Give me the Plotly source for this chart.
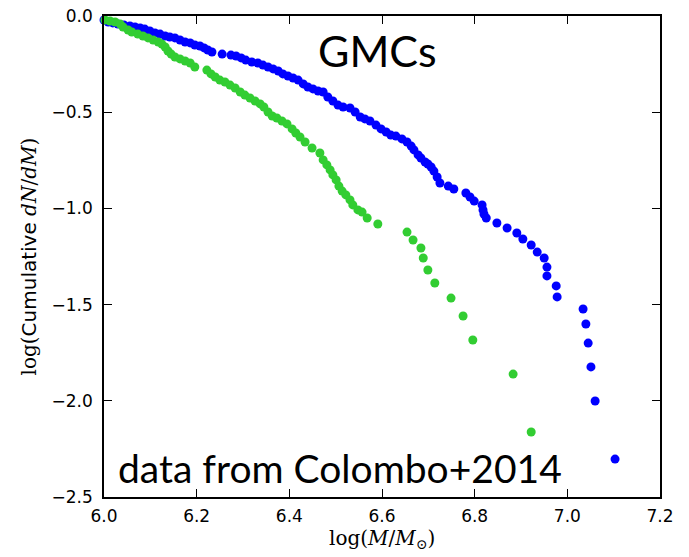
import plotly.graph_objects as go

# Blue series (log M, log cumulative dN/dM)
blue_x = [6.000, 6.009, 6.019, 6.030, 6.043, 6.056, 6.067, 6.078, 6.088, 6.099,
          6.110, 6.121, 6.132, 6.142, 6.153, 6.164, 6.175, 6.186, 6.196, 6.207,
          6.216, 6.224, 6.233, 6.255, 6.274, 6.285, 6.296, 6.306, 6.319, 6.332,
          6.343, 6.354, 6.365, 6.376, 6.386, 6.397, 6.408, 6.419, 6.430, 6.440,
          6.451, 6.462, 6.473, 6.483, 6.494, 6.505, 6.516, 6.531, 6.542, 6.553,
          6.563, 6.574, 6.587, 6.598, 6.609, 6.619, 6.630, 6.643, 6.654, 6.663,
          6.669, 6.678, 6.684, 6.693, 6.699, 6.706, 6.712, 6.719, 6.725, 6.743,
          6.755, 6.781, 6.790, 6.799, 6.816, 6.818, 6.820, 6.825, 6.848, 6.870,
          6.891, 6.904, 6.922, 6.935, 6.950, 6.956, 6.956, 6.976, 6.978, 7.034,
          7.040, 7.045, 7.051, 7.060, 7.103]
blue_y = [-0.021, -0.031, -0.036, -0.042, -0.047, -0.052, -0.057, -0.062, -0.068, -0.078,
          -0.088, -0.094, -0.104, -0.109, -0.114, -0.125, -0.135, -0.140, -0.151, -0.156,
          -0.166, -0.177, -0.187, -0.198, -0.203, -0.208, -0.218, -0.229, -0.239, -0.244,
          -0.255, -0.265, -0.275, -0.286, -0.301, -0.312, -0.322, -0.333, -0.353, -0.369,
          -0.379, -0.390, -0.395, -0.421, -0.442, -0.463, -0.473, -0.478, -0.499, -0.525,
          -0.535, -0.546, -0.567, -0.587, -0.603, -0.619, -0.624, -0.639, -0.655, -0.676,
          -0.696, -0.722, -0.738, -0.759, -0.769, -0.785, -0.806, -0.837, -0.868, -0.884,
          -0.899, -0.920, -0.941, -0.962, -0.982, -1.008, -1.029, -1.050, -1.076, -1.102,
          -1.128, -1.159, -1.190, -1.227, -1.258, -1.305, -1.351, -1.403, -1.460, -1.523,
          -1.601, -1.700, -1.824, -2.001, -2.303]

# Green series
green_x = [6.002, 6.013, 6.024, 6.035, 6.041, 6.052, 6.060, 6.073, 6.084, 6.095,
           6.106, 6.117, 6.125, 6.132, 6.138, 6.145, 6.153, 6.164, 6.175, 6.186,
           6.196, 6.222, 6.231, 6.240, 6.250, 6.261, 6.272, 6.283, 6.294, 6.304,
           6.315, 6.326, 6.337, 6.345, 6.354, 6.363, 6.373, 6.384, 6.395, 6.406,
           6.414, 6.423, 6.434, 6.449, 6.466, 6.473, 6.481, 6.488, 6.494, 6.501,
           6.507, 6.514, 6.522, 6.531, 6.537, 6.548, 6.557, 6.568, 6.591, 6.654,
           6.667, 6.684, 6.689, 6.699, 6.714, 6.749, 6.775, 6.796, 6.883, 6.922]
green_y = [-0.021, -0.026, -0.031, -0.042, -0.057, -0.073, -0.083, -0.094, -0.104, -0.114,
           -0.125, -0.135, -0.146, -0.161, -0.182, -0.198, -0.213, -0.223, -0.234, -0.244,
           -0.265, -0.281, -0.301, -0.317, -0.333, -0.343, -0.359, -0.374, -0.395, -0.411,
           -0.426, -0.442, -0.457, -0.473, -0.499, -0.520, -0.530, -0.546, -0.561, -0.587,
           -0.608, -0.629, -0.655, -0.686, -0.712, -0.748, -0.774, -0.800, -0.826, -0.852,
           -0.884, -0.910, -0.930, -0.956, -0.982, -1.008, -1.019, -1.050, -1.081, -1.123,
           -1.164, -1.206, -1.258, -1.320, -1.388, -1.466, -1.559, -1.684, -1.861, -2.162]

x_ticks = [6.0, 6.2, 6.4, 6.6, 6.8, 7.0, 7.2]
x_ticktext = ["6.0", "6.2", "6.4", "6.6", "6.8", "7.0", "7.2"]
y_ticks = [0.0, -0.5, -1.0, -1.5, -2.0, -2.5]
y_ticktext = ["0.0", "\u22120.5", "\u22121.0", "\u22121.5", "\u22122.0", "\u22122.5"]

fig = go.Figure()
fig.add_trace(go.Scatter(x=blue_x, y=blue_y, mode="markers",
                         marker=dict(color="#0000ff", size=9, line=dict(width=0)),
                         showlegend=False, cliponaxis=False))
fig.add_trace(go.Scatter(x=green_x, y=green_y, mode="markers",
                         marker=dict(color="#32cd32", size=9, line=dict(width=0)),
                         showlegend=False, cliponaxis=False))

axis_common = dict(showline=True, linecolor="black", linewidth=1.5, mirror="ticks",
                   ticks="inside", ticklen=8, tickwidth=1, tickcolor="black",
                   showgrid=False, zeroline=False, automargin=False,
                   ticklabeloverflow="allow",
                   tickfont=dict(family="DejaVu Sans", size=17, color="black"))

fig.update_xaxes(range=[6.0, 7.2], tickvals=x_ticks, ticktext=x_ticktext,
                 ticklabelstandoff=3, **axis_common)
fig.update_yaxes(range=[-2.5, 0.0], tickvals=y_ticks, ticktext=y_ticktext,
                 ticklabelstandoff=6, **axis_common)

# axis titles as annotations for exact placement
fig.add_annotation(xref="paper", yref="paper", x=0.5, y=-0.087, xanchor="center", yanchor="middle",
                   text="log(<i>M</i>/<i>M</i><sub>⊙</sub>)", showarrow=False,
                   font=dict(family="DejaVu Serif", size=20, color="black"))
fig.add_annotation(xref="paper", yref="paper", x=-0.135, y=0.5, xanchor="center", yanchor="middle",
                   textangle=-90,
                   text="log(<span style='font-family:DejaVu Sans'>Cumulative </span><i>dN</i>/<i>dM</i>)",
                   showarrow=False,
                   font=dict(family="DejaVu Serif", size=20, color="black"))

fig.add_annotation(x=6.591, y=-0.18, text="GMCs", showarrow=False,
                   font=dict(family="Lato", size=43, color="black"))
fig.add_annotation(x=6.509, y=-2.35, text="data from Colombo+2014", showarrow=False,
                   font=dict(family="Lato", size=39, color="black"))

# page adds an 8px body margin; compensate so the plot area lands at x 104-660, y 16-497
fig.update_layout(width=681, height=549, plot_bgcolor="white", paper_bgcolor="white",
                  margin=dict(l=96, r=29, t=8, b=60))

fig.write_html("out.html")
